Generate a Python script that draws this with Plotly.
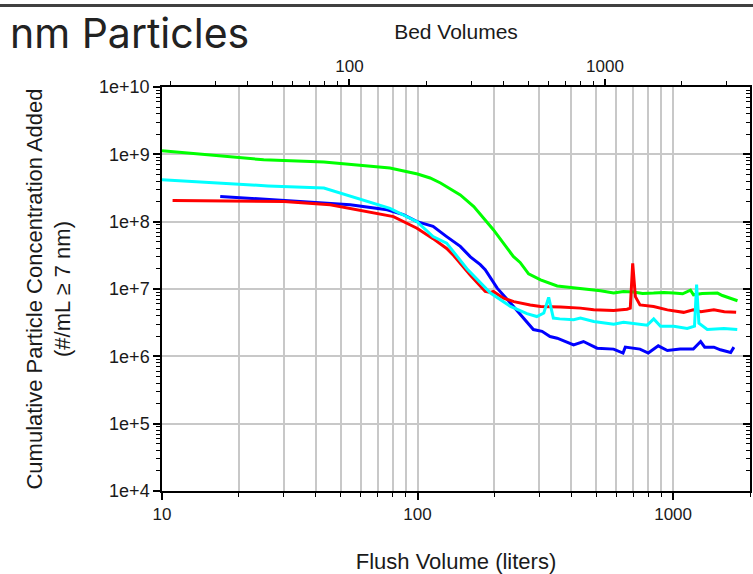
import numpy as np
import plotly.graph_objects as go

# ---------------- data ----------------
green_x = [10, 20, 25, 43, 78, 100, 112, 123, 134, 147, 166, 198, 237, 252, 272, 303, 352, 422,
           520, 585, 640, 700, 760, 839, 920, 1005, 1090, 1170, 1202, 1300, 1492, 1560, 1650, 1787]
green_y = [1.13e9, 8.8e8, 8.3e8, 7.7e8, 6.25e8, 5.1e8, 4.45e8, 3.75e8, 3.1e8, 2.5e8, 1.68e8, 7.6e7,
           3.04e7, 2.48e7, 1.68e7, 1.37e7, 1.11e7, 1.03e7, 9.4e6, 8.7e6, 9.2e6, 9.0e6, 8.6e6, 8.7e6,
           8.9e6, 8.7e6, 8.5e6, 9.6e6, 8.2e6, 8.6e6, 8.7e6, 8.0e6, 7.4e6, 6.7e6]

cyan_x = [10, 26, 43, 54.5, 69, 78, 99.5, 115, 130, 156, 193, 231, 268, 293, 312, 326, 340, 360,
          408, 434, 489, 586, 640, 702, 792, 840, 893, 1006, 1136, 1213, 1236, 1262, 1361, 1582, 1783]
cyan_y = [4.2e8, 3.4e8, 3.15e8, 2.37e8, 1.8e8, 1.58e8, 1.0e8, 6.0e7, 4.8e7, 2.0e7, 8.7e6, 5.5e6,
          4.3e6, 3.9e6, 4.4e6, 7.5e6, 3.7e6, 3.6e6, 3.5e6, 3.7e6, 3.3e6, 3.0e6, 3.2e6, 3.1e6, 2.9e6,
          3.6e6, 2.8e6, 2.8e6, 2.6e6, 2.8e6, 1.16e7, 3.1e6, 2.5e6, 2.6e6, 2.5e6]

blue_x = [16.9, 30, 45.5, 54.5, 76, 88, 99.5, 115, 130, 147, 161, 176, 184, 205, 231, 260, 284,
          307, 330, 352, 386, 408, 446, 504, 585, 637, 650, 742, 800, 875, 950, 1066, 1200, 1282,
          1330, 1444, 1532, 1680, 1730]
blue_y = [2.37e8, 2.07e8, 1.89e8, 1.78e8, 1.5e8, 1.27e8, 1.0e8, 8.5e7, 6.0e7, 4.3e7, 3.0e7, 2.3e7,
          1.93e7, 1.03e7, 6.2e6, 3.7e6, 2.5e6, 2.35e6, 1.97e6, 1.86e6, 1.6e6, 1.48e6, 1.66e6,
          1.32e6, 1.28e6, 1.12e6, 1.37e6, 1.28e6, 1.12e6, 1.43e6, 1.22e6, 1.28e6, 1.28e6, 1.66e6,
          1.37e6, 1.37e6, 1.25e6, 1.14e6, 1.37e6]

red_x = [11, 30, 45.5, 61.5, 80.5, 99.5, 115, 130, 139, 161, 184, 193, 198, 217, 238, 276, 303,
         363, 434, 489, 585, 660, 680, 695, 712, 742, 839, 950, 1100, 1200, 1284, 1444, 1587, 1765]
red_y = [2.07e8, 2.0e8, 1.78e8, 1.42e8, 1.19e8, 8.0e7, 5.6e7, 4.0e7, 3.1e7, 1.6e7, 9.2e6, 8.9e6,
         9.2e6, 7.3e6, 6.5e6, 5.8e6, 5.5e6, 5.4e6, 5.2e6, 4.9e6, 4.8e6, 5.0e6, 5.2e6, 2.4e7, 7.7e6,
         5.8e6, 5.5e6, 4.9e6, 4.5e6, 4.9e6, 4.6e6, 4.9e6, 4.6e6, 4.5e6]

flush_range = [10, 2000]          # liters
conc_range = [1e4, 1e10]
liters_per_bed_volume = 0.5415    # conversion for top axis
y_tickvals = [1e4, 1e5, 1e6, 1e7, 1e8, 1e9, 1e10]
y_ticktext = ["1e+4", "1e+5", "1e+6", "1e+7", "1e+8", "1e+9", "1e+10"]
x_tickvals = [10, 100, 1000]
x_ticktext = ["10", "100", "1000"]
bv_tickvals = [100, 1000]
bv_ticktext = ["100", "1000"]


def minors(lo_exp, hi_exp):
    return [k * 10 ** e for e in range(lo_exp, hi_exp) for k in range(2, 10)]


bv_range = [v / liters_per_bed_volume for v in flush_range]
y_minor = minors(4, 10)
x_minor = [v for v in minors(1, 4) if v <= flush_range[1]]
bv_minor = [v for v in minors(1, 4) if bv_range[0] <= v <= bv_range[1]]

FONT = "Liberation Sans, Arial, sans-serif"
GRID = "#c8c8c8"

fig = go.Figure()
for xs, ys, col in [(green_x, green_y, "#00ff00"), (blue_x, blue_y, "#0000ff"),
                    (red_x, red_y, "#ff0000"), (cyan_x, cyan_y, "#00ffff")]:
    fig.add_trace(go.Scatter(x=xs, y=ys, mode="lines", line=dict(color=col, width=3),
                             showlegend=False, hoverinfo="skip"))

# invisible helper traces so the secondary (top / right) axes get drawn
fig.add_trace(go.Scatter(x=bv_range, y=conc_range, xaxis="x2", yaxis="y", mode="markers",
                         marker=dict(opacity=0), showlegend=False, hoverinfo="skip"))
fig.add_trace(go.Scatter(x=flush_range, y=conc_range, xaxis="x", yaxis="y2", mode="markers",
                         marker=dict(opacity=0), showlegend=False, hoverinfo="skip"))

xr = [np.log10(flush_range[0]), np.log10(flush_range[1])]
bvr = [np.log10(bv_range[0]), np.log10(bv_range[1])]
yr = [np.log10(conc_range[0]), np.log10(conc_range[1])]

fig.update_layout(
    width=753, height=574,
    margin=dict(l=162, r=3, t=87, b=83, autoexpand=False),
    paper_bgcolor="white", plot_bgcolor="white",
    font=dict(family=FONT, size=17, color="#1a1a1a"),
    xaxis=dict(type="log", range=xr, tickmode="array", tickvals=x_tickvals, ticktext=x_ticktext,
               ticks="outside", ticklen=7, tickwidth=1.5, tickcolor="black",
               showline=True, linecolor="black", linewidth=1.5,
               showgrid=True, gridcolor=GRID, gridwidth=1.5,
               minor=dict(tickmode="array", tickvals=x_minor, ticks="outside", ticklen=4,
                          tickwidth=1, tickcolor="black", showgrid=True, gridcolor=GRID, gridwidth=1.5),
               tickfont=dict(size=17), zeroline=False, automargin=False,
               title=dict(text="Flush Volume (liters)", font=dict(size=22), standoff=31)),
    xaxis2=dict(type="log", range=bvr, overlaying="x", side="top", anchor="y",
                tickmode="array", tickvals=bv_tickvals, ticktext=bv_ticktext,
                ticks="outside", ticklen=6, tickwidth=1.5, tickcolor="black",
                showline=True, linecolor="black", linewidth=1.5, showgrid=False,
                minor=dict(tickmode="array", tickvals=bv_minor, ticks="outside", ticklen=4,
                           tickwidth=1, tickcolor="black", showgrid=False),
                tickfont=dict(size=17), zeroline=False, automargin=False,
                title=dict(text="Bed Volumes", font=dict(size=21), standoff=12)),
    yaxis=dict(type="log", range=yr, tickmode="array", tickvals=y_tickvals, ticktext=y_ticktext,
               ticks="outside", ticklen=7, tickwidth=1.5, tickcolor="black",
               showline=True, linecolor="black", linewidth=1.5,
               showgrid=True, gridcolor=GRID, gridwidth=1.5,
               minor=dict(tickmode="array", tickvals=y_minor, ticks="outside", ticklen=4,
                          tickwidth=1, tickcolor="black", showgrid=False),
               tickfont=dict(size=18), zeroline=False, automargin=False,
               title=dict(text="Cumulative Particle Concentration Added<br>(#/mL ≥ 7 nm)",
                          font=dict(size=22), standoff=22)),
    yaxis2=dict(type="log", range=yr, overlaying="y", side="right", anchor="x",
                tickmode="array", tickvals=y_tickvals, showticklabels=False,
                ticks="inside", ticklen=7, tickwidth=1.5, tickcolor="black",
                showline=True, linecolor="black", linewidth=1.5, showgrid=False,
                minor=dict(tickmode="array", tickvals=y_minor, ticks="inside", ticklen=4,
                           tickwidth=1, tickcolor="black", showgrid=False),
                zeroline=False, automargin=False),
    shapes=[dict(type="rect", xref="paper", yref="paper", x0=-0.3, x1=1.1,
                 y0=1 + 80 / 404, y1=1 + 83 / 404, line=dict(width=0),
                 fillcolor="#404040", layer="above")],
    annotations=[dict(text="nm Particles", xref="paper", yref="paper", x=-154 / 588, y=1 + 27 / 404,
                      xanchor="left", yanchor="bottom", showarrow=False,
                      font=dict(family="Inter, Roboto, sans-serif", size=41, color="#222222"))],
)

fig.write_html("out.html", config={"displayModeBar": False},
               post_script="document.body.style.margin='0';")
